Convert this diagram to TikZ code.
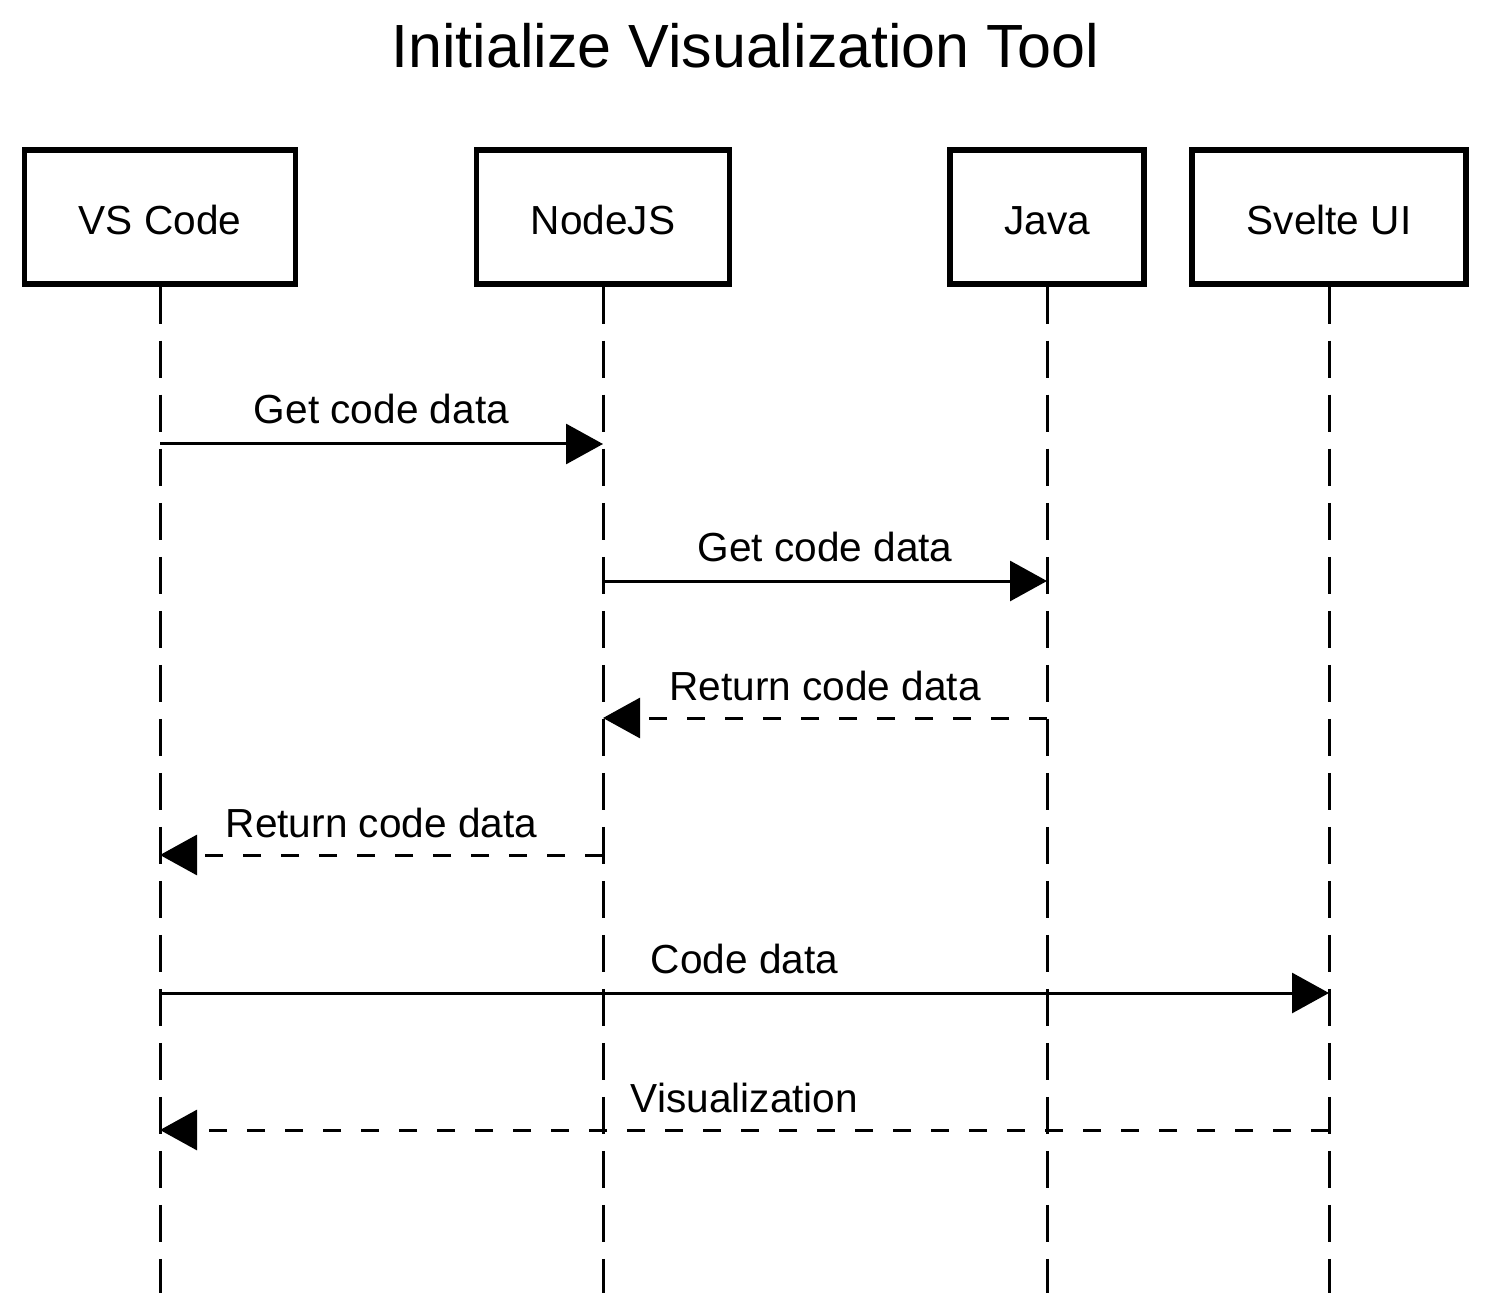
\documentclass[tikz,border=0pt]{standalone}
\usepackage{fontspec}
\setmainfont{Liberation Sans}
\usetikzlibrary{arrows.meta}

\tikzset{
  actor/.style={draw, line width=2.75pt, minimum height=67pt, inner sep=0pt,
    text height=18pt, text depth=0pt, font=\fontsize{20.3}{24}\selectfont},
  lifeline/.style={line width=1.5pt, dash pattern=on 18.5pt off 8.5pt},
  msg/.style={line width=1.5pt, -{Triangle[length=18.5pt,width=20pt]}},
  reply/.style={msg, dash pattern=on 9pt off 10pt},
  msglabel/.style={anchor=base, inner sep=0pt, yshift=10pt,
    font=\fontsize{20.3}{24}\selectfont}
}

\begin{document}
\begin{tikzpicture}[x=0.5pt, y=-0.5pt]
    \useasboundingbox (0,0) rectangle (1492,1304);
    \node[anchor=base, font=\fontsize{30.5}{36}\selectfont] (title) at (745,68)
      {Initialize Visualization Tool};
    % participants
    \node[actor, minimum width=135.5pt] (vscode) at (160,217) {VS Code};
    \node[actor, minimum width=126.5pt] (nodejs) at (603,217) {NodeJS};
    \node[actor, minimum width=97pt] (java) at (1047,217) {Java};
    \node[actor, minimum width=137pt] (svelte) at (1329,217) {Svelte UI};
    \coordinate (bottom) at (0,1293);
    \foreach \a in {vscode,nodejs,java,svelte}
      \draw[lifeline] (\a.south) -- (\a |- bottom);
    % message rows
    \coordinate (m1) at (0,444);
    \coordinate (m2) at (0,581);
    \coordinate (m3) at (0,718);
    \coordinate (m4) at (0,855);
    \coordinate (m5) at (0,993);
    \coordinate (m6) at (0,1130);
    \draw[msg] (vscode |- m1)
      -- node[msglabel] (l1) {Get code data} (nodejs |- m1);
    \draw[msg] (nodejs |- m2)
      -- node[msglabel] (l2) {Get code data} (java |- m2);
    \draw[reply] (java |- m3)
      -- node[msglabel, yshift=-1pt] (l3) {Return code data} (nodejs |- m3);
    \draw[reply] (nodejs |- m4)
      -- node[msglabel, yshift=-1pt] (l4) {Return code data} (vscode |- m4);
    \draw[msg] (vscode |- m5)
      -- node[msglabel] (l5) {Code data} (svelte |- m5);
    \draw[reply] (svelte |- m6)
      -- node[msglabel, yshift=-1pt] (l6) {Visualization} (vscode |- m6);
  \end{tikzpicture}
\end{document}
